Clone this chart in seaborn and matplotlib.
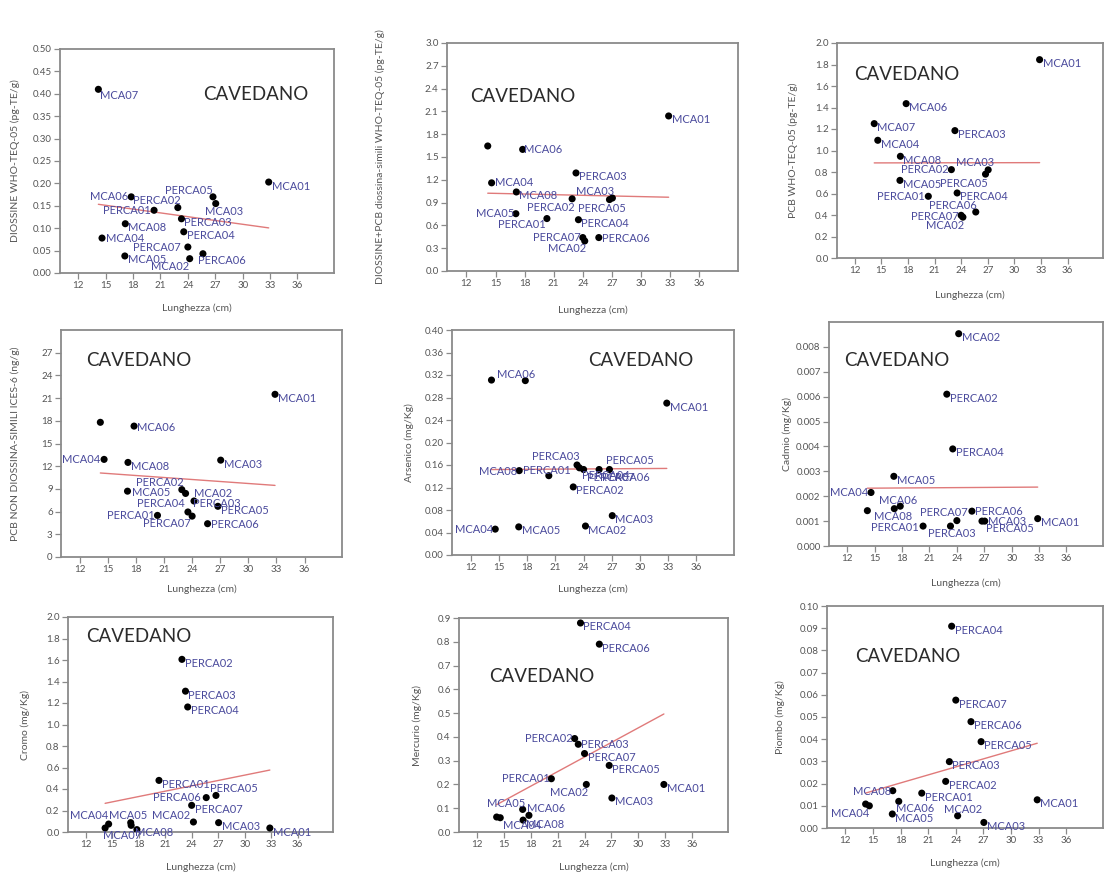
import matplotlib
matplotlib.use("Agg")
import matplotlib.pyplot as plt
from matplotlib.ticker import FixedLocator, FormatStrFormatter
import numpy as np
import pandas as pd
import seaborn as sns

# ---------------------------------------------------------------- data
campioni = ["MCA01", "MCA02", "MCA03", "MCA04", "MCA05", "MCA06", "MCA07", "MCA08",
            "PERCA01", "PERCA02", "PERCA03", "PERCA04", "PERCA05", "PERCA06", "PERCA07"]
lunghezza = [32.85, 24.2, 27.05, 14.6, 17.1, 17.8, 14.2, 17.15,
             20.3, 22.9, 23.3, 23.55, 26.75, 25.65, 24.0]

diossine = [0.203, 0.032, 0.155, 0.078, 0.038, 0.170, 0.410, 0.110,
            0.140, 0.146, 0.121, 0.092, 0.170, 0.043, 0.058]
teq_totale = [2.04, 0.395, 0.96, 1.16, 0.754, 1.60, 1.645, 1.04,
              0.69, 0.95, 1.29, 0.675, 0.94, 0.44, 0.44]
pcb_dl = [1.845, 0.38, 0.82, 1.095, 0.722, 1.436, 1.25, 0.946,
          0.574, 0.822, 1.185, 0.605, 0.78, 0.428, 0.397]
pcb_ndl = [21.5, 7.4, 12.8, 12.9, 8.7, 17.3, 17.8, 12.5,
           5.5, 8.9, 8.4, 5.95, 6.7, 4.4, 5.4]
arsenico = [0.27, 0.0515, 0.07, 0.046, 0.05, 0.31, 0.311, 0.15,
            0.141, 0.121, 0.16, 0.155, 0.152, 0.152, 0.152]
cadmio = [0.0011, 0.00853, 0.0010, 0.00215, 0.0028, 0.0016, 0.00142, 0.0015,
          0.0008, 0.0061, 0.0008, 0.0039, 0.0010, 0.0014, 0.00102]
cromo = [0.037, 0.093, 0.087, 0.074, 0.087, 0.022, 0.037, 0.062,
         0.48, 1.606, 1.31, 1.163, 0.34, 0.32, 0.248]
mercurio = [0.20, 0.20, 0.143, 0.06, 0.095, 0.07, 0.063, 0.05,
            0.224, 0.393, 0.369, 0.879, 0.28, 0.79, 0.33]
piombo = [0.0127, 0.0055, 0.0025, 0.010, 0.0063, 0.012, 0.0108, 0.0168,
          0.0157, 0.021, 0.0299, 0.0909, 0.0389, 0.0479, 0.0576]

specie = "CAVEDANO"
etichetta_x = "Lunghezza (cm)"

# ---------------------------------------------------------------- style
sns.set_style("white")
plt.rcParams["font.family"] = ["Lato", "DejaVu Sans"]

W, H = 1105, 875
GRIGIO = "#8a8a8a"
TESTO = "#555555"
ETICH = "#4a4a9c"
LINEA = "#e07a7a"

# label offsets in pixels (dx, dy, ha); default sits right of the point
R = (3, -4, "left")

panels = [
    dict(y=diossine, ylab="DIOSSINE WHO-TEQ-05 (pg-TE/g)", ymax=0.50, ytop=0.50, step=0.05,
         fmt="%.2f", box=(60, 49, 334, 273), xl=308, yl=15, tit=(203, 95),
         hide=[],
         off={"MCA02": (-1, -8, "right"), "MCA03": (-11, -8, "left"), "MCA04": (4, 0, "left"),
              "MCA06": (-3, 0, "right"), "MCA07": (2, -6, "left"), "PERCA01": (-3, 0, "right"),
              "PERCA02": (3, 7, "right"), "PERCA05": (0, 6, "right"), "PERCA06": (-5, -7, "left"),
              "PERCA07": (-7, 0, "right")}),
    dict(y=teq_totale, ylab="DIOSSINE+PCB diossina-simili WHO-TEQ-05 (pg-TE/g)", ymax=3.0, ytop=3.0,
         step=0.3, fmt="%.1f", box=(447, 43, 738, 271), xl=310, yl=380, tit=(470, 97),
         hide=["MCA07"],
         off={"MCA02": (1, -8, "right"), "MCA03": (2, 7, "right"), "MCA04": (3, 0, "left"),
              "MCA05": (-2, 0, "right"), "MCA06": (1, 0, "left"), "PERCA01": (-1, -6, "right"),
              "PERCA02": (2, -9, "right"), "PERCA05": (-31, -9, "left"), "PERCA06": (3, -1, "left"),
              "PERCA07": (-2, 0, "right")}),
    dict(y=pcb_dl, ylab="PCB WHO-TEQ-05 (pg-TE/g)", ymax=2.0, ytop=2.0, step=0.2,
         fmt="%.1f", box=(837, 43, 1103, 258), xl=295, yl=793, tit=(854, 75),
         hide=[],
         off={"MCA02": (1, -8, "right"), "MCA03": (6, 7, "right"), "PERCA01": (-4, 0, "right"),
              "PERCA02": (-3, 0, "right"), "PERCA05": (2, -9, "right"), "PERCA06": (1, 6, "right"),
              "PERCA07": (-2, -1, "right")}),
    dict(y=pcb_ndl, ylab="PCB NON DIOSSINA-SIMILI ICES-6 (ng/g)", ymax=30, ytop=27, step=3,
         fmt="%d", box=(61, 330, 342, 557), xl=589, yl=15, tit=(86, 360),
         hide=["MCA07"],
         off={"MCA02": (0, 8, "left"), "MCA04": (-4, 0, "right"), "MCA05": (4, -1, "left"),
              "MCA06": (3, -1, "left"), "PERCA01": (-3, 0, "right"), "PERCA02": (2, 7, "right"),
              "PERCA03": (7, -10, "left"), "PERCA04": (-3, 8, "right"), "PERCA06": (3, -1, "left"),
              "PERCA07": (-1, -7, "right")}),
    dict(y=arsenico, ylab="Arsenico (mg/Kg)", ymax=0.40, ytop=0.40, step=0.04,
         fmt="%.2f", box=(452, 330, 734, 555), xl=589, yl=409, tit=(588, 361),
         hide=["MCA07"],
         off={"MCA04": (-2, 0, "right"), "MCA06": (-28, 6, "left"), "MCA08": (-2, -1, "right"),
              "PERCA01": (-26, 5, "left"), "PERCA03": (3, 8, "right"), "PERCA04": (3, -8, "left"),
              "PERCA05": (-3, 9, "left"), "PERCA06": (3, -8, "left"), "PERCA07": (3, -8, "left")}),
    dict(y=cadmio, ylab="Cadmio (mg/Kg)", ymax=0.009, ytop=0.008, step=0.001,
         fmt="%.3f", box=(829, 322, 1103, 546), xl=583, yl=787, tit=(844, 361),
         hide=["MCA07"],
         off={"MCA03": (3, 0, "left"), "MCA04": (-3, 0, "right"), "MCA06": (17, 6, "right"),
              "MCA08": (-20, -8, "left"), "PERCA01": (-4, -1, "right"), "PERCA03": (-22, -7, "left"),
              "PERCA05": (4, -7, "left"), "PERCA06": (3, 0, "left"), "PERCA07": (11, 8, "right")}),
    dict(y=cromo, ylab="Cromo (mg/Kg)", ymax=2.0, ytop=2.0, step=0.2,
         fmt="%.1f", box=(68, 617, 333, 832), xl=867, yl=25, tit=(86, 637),
         hide=["MCA06"],
         off={"MCA02": (-3, 7, "right"), "MCA04": (0, 9, "right"), "MCA05": (-22, 7, "left"),
              "MCA07": (-2, -7, "left"), "MCA08": (4, -7, "left"), "PERCA05": (-6, 7, "left"),
              "PERCA06": (-5, 0, "right")}),
    dict(y=mercurio, ylab="Mercurio (mg/Kg)", ymax=0.9, ytop=0.9, step=0.1,
         fmt="%.1f", box=(459, 618, 728, 832), xl=867, yl=417, tit=(489, 677),
         hide=["MCA07"],
         off={"MCA02": (2, -8, "right"), "MCA04": (3, -8, "left"), "MCA05": (3, 6, "right"),
              "MCA06": (-2, 7, "left"), "PERCA01": (-2, 0, "right"), "PERCA02": (-2, 0, "right"),
              "PERCA03": (3, 0, "left")}),
    dict(y=piombo, ylab="Piombo (mg/Kg)", ymax=0.10, ytop=0.10, step=0.01,
         fmt="%.2f", box=(827, 606, 1103, 828), xl=863, yl=780, tit=(855, 657),
         hide=["MCA07"],
         off={"MCA02": (-14, 6, "left"), "MCA04": (0, -8, "right"), "MCA06": (-3, -7, "left"),
              "MCA08": (-2, -1, "right")}),
]

fig = plt.figure(figsize=(W / 100, H / 100), dpi=100)

for p in panels:
    left, top, right, bottom = p["box"]
    ax = fig.add_axes([left / W, 1 - bottom / H, (right - left) / W, (bottom - top) / H])
    df = pd.DataFrame({"campione": campioni, "lunghezza": lunghezza, "valore": p["y"]})

    sns.regplot(data=df, x="lunghezza", y="valore", ax=ax, scatter=False, ci=None,
                truncate=True, line_kws=dict(color=LINEA, lw=1.0, zorder=2))
    sns.scatterplot(data=df, x="lunghezza", y="valore", ax=ax, color="black",
                    s=26, edgecolor="none", zorder=3, legend=False)

    for nome, xv, yv in zip(df["campione"], df["lunghezza"], df["valore"]):
        if nome in p["hide"]:
            continue
        dx, dy, ha = p["off"].get(nome, R)
        ax.annotate(nome, (xv, yv), xytext=(dx, dy), textcoords="offset pixels",
                    ha=ha, va="center", fontsize=8, color=ETICH, zorder=4,
                    annotation_clip=False)

    ax.set_xlim(10, 40)
    ax.set_ylim(0, p["ymax"])
    ax.xaxis.set_major_locator(FixedLocator(np.arange(12, 37, 3)))
    ax.yaxis.set_major_locator(FixedLocator(np.arange(0, p["ytop"] + p["step"] / 2, p["step"])))
    ax.yaxis.set_major_formatter(FormatStrFormatter(p["fmt"]))
    ax.tick_params(axis="both", which="major", direction="out", length=4, width=0.9,
                   color=GRIGIO, labelsize=7, labelcolor=TESTO, pad=2,
                   bottom=True, left=True)
    for sp in ax.spines.values():
        sp.set_color(GRIGIO)
        sp.set_linewidth(1.3)

    ax.set_xlabel(etichetta_x, fontsize=7.5, color=TESTO)
    ax.set_ylabel(p["ylab"], fontsize=7.5, color=TESTO)
    ax_h = bottom - top
    ax_w = right - left
    ax.xaxis.set_label_coords(0.5, -(p["xl"] - bottom) / ax_h)
    ax.yaxis.set_label_coords(-(left - p["yl"]) / ax_w, 0.5)
    ax.xaxis.label.set_verticalalignment("center")
    ax.yaxis.label.set_verticalalignment("center")

    tx, ty = p["tit"]
    fig.text(tx / W, 1 - ty / H, specie, ha="left", va="center",
             fontsize=13.5, color="#2b2b2b")

fig.savefig("out.png", dpi=100, facecolor="white")
